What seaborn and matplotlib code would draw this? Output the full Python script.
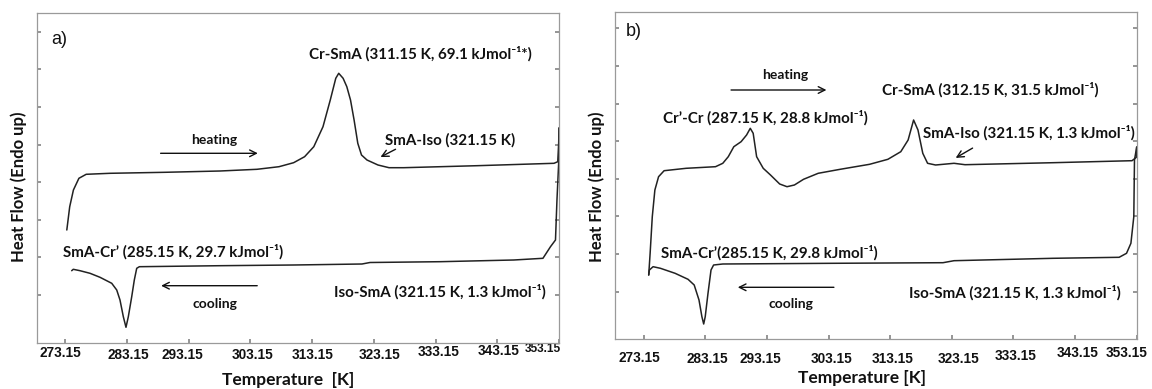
import numpy as np
import pandas as pd
import matplotlib
matplotlib.use("Agg")
import matplotlib.pyplot as plt
import matplotlib.transforms as mtransforms
import seaborn as sns

# ---------------- data ----------------
# Panel a) heating run
a_heat_T = [273.38, 273.85, 274.45, 275.34, 276.52, 280.38, 289.29, 298.21, 304.20, 307.77,
            310.14, 311.92, 313.41, 314.90, 316.08, 316.97, 317.45, 318.16, 318.76, 319.36,
            319.94, 320.54, 321.14, 322.03, 323.81, 325.60, 327.98, 339.86, 352.34, 352.95,
            353.10, 353.15]
a_heat_HF = [112.7, 136.0, 152.7, 164.4, 168.4, 169.4, 170.4, 171.7, 173.4, 176.0,
             180.0, 186.0, 196.0, 216.0, 242.7, 264.4, 269.4, 264.4, 256.0, 242.7,
             222.7, 199.4, 187.7, 182.7, 177.7, 175.0, 175.0, 177.0, 179.4, 181.0,
             200.0, 214.7]
# Panel a) cooling run
a_cool_T = [353.15, 353.10, 352.82, 352.58, 351.77, 350.55, 345.82, 333.86, 322.52, 321.22,
            310.14, 298.21, 285.14, 284.71, 284.32, 283.90, 283.35, 282.97, 282.54, 282.00,
            281.47, 280.66, 279.84, 278.76, 277.14, 275.52, 274.43, 274.17]
a_cool_HF = [214.7, 180.0, 142.7, 102.7, 96.0, 84.4, 82.7, 81.0, 80.2, 78.7,
             77.7, 77.0, 76.0, 74.4, 62.7, 46.0, 26.0, 15.4, 26.0, 42.7,
             52.7, 59.4, 62.0, 65.4, 69.4, 72.0, 73.4, 72.0]
# Panel b) heating run
b_heat_T = [273.97, 274.20, 274.55, 274.97, 275.57, 276.47, 280.04, 284.81, 285.99, 286.88,
            287.78, 288.96, 289.85, 290.45, 290.92, 291.48, 292.55, 293.73, 295.22, 296.41,
            297.61, 299.09, 301.47, 305.04, 309.81, 312.78, 314.87, 316.06, 316.95, 317.66,
            318.44, 319.22, 320.52, 323.51, 325.29, 339.57, 352.39, 353.10, 353.15]
b_heat_HF = [64.3, 86.0, 122.6, 149.3, 162.6, 168.6, 171.0, 172.6, 176.0, 182.6,
             192.6, 197.6, 204.3, 211.0, 206.0, 182.6, 171.0, 164.3, 155.3, 152.6,
             154.3, 160.0, 166.0, 170.0, 175.0, 180.0, 187.6, 199.3, 219.3, 209.3,
             186.0, 176.0, 174.3, 176.0, 174.6, 176.6, 178.6, 182.0, 192.3]
# Panel b) cooling run
b_cool_T = [353.15, 352.79, 352.68, 352.21, 351.50, 350.30, 339.57, 323.51, 321.72, 303.86,
            285.99, 284.50, 284.08, 283.59, 283.14, 282.89, 282.60, 282.13, 281.35, 280.35,
            278.25, 275.87, 274.68, 274.08, 273.97]
b_cool_HF = [192.3, 179.3, 122.6, 96.0, 86.0, 82.0, 81.0, 78.6, 76.6, 76.0,
             75.3, 74.3, 69.3, 46.0, 22.6, 15.3, 22.6, 39.3, 54.3, 60.0,
             66.0, 71.0, 72.6, 69.3, 64.3]

tick_values = [273.15, 283.15, 293.15, 303.15, 313.15, 323.15, 333.15, 343.15, 353.15]
tick_labels = ["273.15", "283.15", "293.15", "303.15", "313.15", "323.15", "333.15", "343.15", "353.15"]

# per-label nudges (pixels) reproducing the hand placement of the labels in the source figure
a_label_dx = [-4.7, 0.9, -6.5, 2.5, 0.1, 6.1, 2.7, 1.7, -15.7]
a_label_dy = [-2.0, 0, 0, 0.5, 0.5, 0.5, -2.5, -4.0, -4.5]
b_label_dx = [-4.7, 2.0, -6.2, 3.1, 2.1, 6.5, 2.3, 2.2, -10.0]
b_label_dy = [-1.7, 0, 0, 0, 0, 0, -3.3, -6.0, -6.7]

# ---------------- style ----------------
sns.set_theme(style="white")
plt.rcParams["font.family"] = ["Lato", "DejaVu Sans"]

W, H = 1152, 389
fig = plt.figure(figsize=(W / 100, H / 100), dpi=100)


def px_rect(l, r, t, b):
    return [l / W, 1 - b / H, (r - l) / W, (b - t) / H]


ax_a = fig.add_axes(px_rect(36.7, 559.0, 13.3, 342.7))
ax_b = fig.add_axes(px_rect(615.0, 1136.7, 11.7, 339.3))

INK = "#111111"
line_kw = dict(color="#222222", linewidth=1.1, sort=False, estimator=None)
txt_kw = dict(fontsize=10.9, fontweight="bold", color=INK,
              family=["Lato", "DejaVu Sans"], ha="center", va="center")
small_kw = dict(fontsize=10, fontweight="bold", color=INK,
                family=["Lato", "DejaVu Sans"], ha="center", va="center")
arrow_kw = dict(arrowstyle="->", color=INK, lw=1.0, mutation_scale=12)


def setup(ax, ylim, tick_pad, xlabel, xlab_pos, ylab_pos, dxs, dys, last_size):
    ax.set_xlim(268.5, 353.15)
    ax.set_ylim(*ylim)
    ax.set_xticks(tick_values)
    ax.set_xticklabels(tick_labels, family=["Liberation Sans"], fontweight="bold", fontsize=9.8)
    ax.set_yticks([47.7 + 37.6 * k for k in range(8)])
    ax.set_yticklabels([])
    ax.tick_params(axis="x", direction="in", length=3, color="#888888", pad=tick_pad,
                   bottom=True, labelcolor=INK)
    ax.tick_params(axis="y", direction="in", length=3, color="#888888", left=True, right=True)
    labels = ax.get_xticklabels()
    for lab, dx, dy in zip(labels, dxs, dys):
        off = mtransforms.ScaledTranslation(dx / 100, -dy / 100, fig.dpi_scale_trans)
        lab.set_transform(lab.get_transform() + off)
    labels[-1].set_fontsize(last_size)
    for s in ax.spines.values():
        s.set_color("#9a9a9a")
        s.set_linewidth(0.9)
    ax.set_xlabel(xlabel, fontsize=12.5, fontweight="bold", family=["Lato", "DejaVu Sans"],
                  color=INK, va="center")
    ax.xaxis.set_label_coords(*xlab_pos)
    ax.set_ylabel("Heat Flow (Endo up)", fontsize=12, fontweight="bold",
                  family=["Lato", "DejaVu Sans"], color=INK, va="center")
    ax.yaxis.set_label_coords(*ylab_pos)
    ax.grid(False)


# ---------------- panel a ----------------
sns.lineplot(x=a_heat_T, y=a_heat_HF, ax=ax_a, **line_kw)
sns.lineplot(x=a_cool_T, y=a_cool_HF, ax=ax_a, **line_kw)
setup(ax_a, (0, 329.4), 3.6, "Temperature  [K]", (0.481, -0.113), (-0.034, 0.473),
      a_label_dx, a_label_dy, 8.6)

ax_a.text(270.82, 303.2, "a)", fontsize=13, family=["Liberation Sans"], ha="left", va="center", color=INK)
ax_a.text(330.75, 288.4, "Cr-SmA (311.15 K, 69.1 kJmol\u207b\u00b9*)", **txt_kw)
ax_a.text(335.56, 202.7, "SmA-Iso (321.15 K)", **txt_kw)
ax_a.annotate("", xy=(323.82, 184.4), xytext=(327.06, 194.7), arrowprops=arrow_kw)
ax_a.text(297.24, 202.7, "heating", **small_kw)
ax_a.annotate("", xy=(304.79, 189.4), xytext=(288.13, 189.4), arrowprops=arrow_kw)
ax_a.text(290.59, 91.0, "SmA-Cr\u2019 (285.15 K, 29.7 kJmol\u207b\u00b9)", **txt_kw)
ax_a.annotate("", xy=(288.21, 57.0), xytext=(304.69, 57.0), arrowprops=arrow_kw)
ax_a.text(297.35, 38.7, "cooling", **small_kw)
ax_a.text(333.86, 51.2, "Iso-SmA (321.15 K, 1.3 kJmol\u207b\u00b9)", **txt_kw)

# ---------------- panel b ----------------
sns.lineplot(x=b_heat_T, y=b_heat_HF, ax=ax_b, **line_kw)
sns.lineplot(x=b_cool_T, y=b_cool_HF, ax=ax_b, **line_kw)
setup(ax_b, (0, 327.6), 9.3, "Temperature [K]", (0.473, -0.118), (-0.036, 0.465),
      b_label_dx, b_label_dy, 9.8)

ax_b.text(270.2, 307.8, "b)", fontsize=13, family=["Liberation Sans"], ha="left", va="center", color=INK)
ax_b.text(296.04, 264.3, "heating", **small_kw)
ax_b.annotate("", xy=(303.26, 249.3), xytext=(286.88, 249.3), arrowprops=arrow_kw)
ax_b.text(329.35, 249.3, "Cr-SmA (312.15 K, 31.5 kJmol\u207b\u00b9)", **txt_kw)
ax_b.text(292.89, 221.3, "Cr\u2019-Cr (287.15 K, 28.8 kJmol\u207b\u00b9)", **txt_kw)
ax_b.text(335.68, 206.3, "SmA-Iso (321.15 K, 1.3 kJmol\u207b\u00b9)", **txt_kw)
ax_b.annotate("", xy=(323.39, 180.0), xytext=(326.91, 192.6), arrowprops=arrow_kw)
ax_b.text(293.49, 86.8, "SmA-Cr\u2019(285.15 K, 29.8 kJmol\u207b\u00b9)", **txt_kw)
ax_b.annotate("", xy=(287.97, 52.0), xytext=(304.47, 52.0), arrowprops=arrow_kw)
ax_b.text(297.03, 35.3, "cooling", **small_kw)
ax_b.text(333.31, 46.0, "Iso-SmA (321.15 K, 1.3 kJmol\u207b\u00b9)", **txt_kw)

fig.savefig("out.png", dpi=100)
